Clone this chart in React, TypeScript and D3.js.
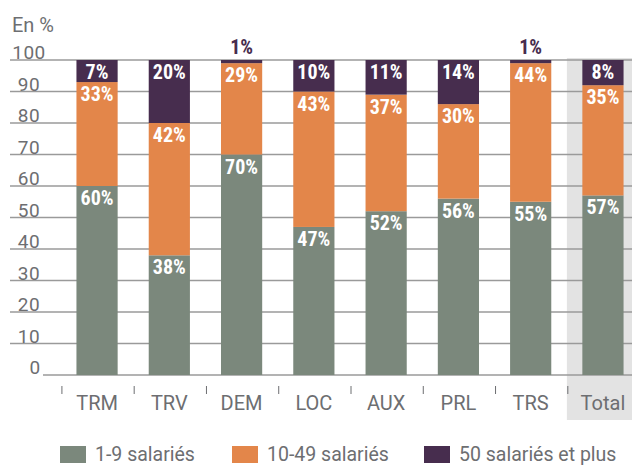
import { axisBottom, scaleBand, scaleLinear, scaleOrdinal, select, stack } from "d3";
import { useEffect, useRef } from "react";

const categories = ["TRM", "TRV", "DEM", "LOC", "AUX", "PRL", "TRS", "Total"];
const small = [60, 38, 70, 47, 52, 56, 55, 57];
const medium = [33, 42, 29, 43, 37, 30, 44, 35];
const large = [7, 20, 1, 10, 11, 14, 1, 8];
const seriesNames = ["1-9 salariés", "10-49 salariés", "50 salariés et plus"];
const yTicks = [0, 10, 20, 30, 40, 50, 60, 70, 80, 90, 100];

const width = 632;
const height = 466;

export default function App() {
  const ref = useRef<SVGSVGElement>(null);

  useEffect(() => {
    document.body.style.margin = "0";
    const data = categories.map((c, i) => ({ cat: c, s: small[i], m: medium[i], l: large[i] }));
    const keys = ["s", "m", "l"];

    const x = scaleBand().domain(categories).range([62, 638]).paddingInner(0.43).paddingOuter(0.2);
    const y = scaleLinear().domain([0, 100]).range([375, 60]);
    const color = scaleOrdinal<string, string>().domain(keys).range(["#7b887c", "#e3864a", "#472d4e"]);
    const stacked = stack<any>().keys(keys)(data);

    const svg = select(ref.current);
    svg.selectAll("*").remove();
    const font = "Roboto, 'DejaVu Sans', sans-serif";
    const grey = "#6d6e71";

    // Total highlight background
    const step = x.step();
    const totalStart = 62 + step * 7;
    svg.append("rect")
      .attr("x", totalStart - 1)
      .attr("y", 58)
      .attr("width", width - totalStart + 1)
      .attr("height", 420 - 58)
      .attr("fill", "#e3e3e3");

    // gridlines + y labels
    const grid = svg.append("g");
    grid.selectAll("line")
      .data(yTicks)
      .join("line")
      .attr("x1", d => (d === 0 ? 43 : 10))
      .attr("x2", width)
      .attr("y1", d => y(d))
      .attr("y2", d => y(d))
      .attr("stroke", "#9a9a9a")
      .attr("stroke-width", 1.5);
    grid.selectAll("text")
      .data(yTicks)
      .join("text")
      .attr("x", d => (d === 0 ? 35 : 29))
      .attr("y", d => y(d) - 1)
      .attr("text-anchor", "middle")
      .attr("font-family", font)
      .attr("font-size", 19)
      .attr("letter-spacing", 0.5)
      .attr("fill", grey)
      .text(d => d);

    svg.append("text")
      .attr("x", 12)
      .attr("y", 32)
      .attr("font-family", font)
      .attr("font-size", 20)
      .attr("fill", grey)
      .text("En %");

    // bars
    const layers = svg.append("g")
      .selectAll("g")
      .data(stacked)
      .join("g")
      .attr("fill", d => color(d.key));
    layers.selectAll("rect")
      .data(d => d)
      .join("rect")
      .attr("x", d => x(d.data.cat)!)
      .attr("y", d => y(d[1]))
      .attr("width", x.bandwidth())
      .attr("height", d => y(d[0]) - y(d[1]));

    // value labels
    const labelFont = "'Liberation Sans Narrow', 'Roboto Condensed', 'DejaVu Sans Condensed', sans-serif";
    stacked.forEach(layer => {
      svg.append("g")
        .selectAll("text")
        .data(layer)
        .join("text")
        .attr("x", d => x(d.data.cat)! + x.bandwidth() / 2)
        .attr("y", d => (d[1] - d[0] < 5 ? y(d[1]) - 6 : y(d[1]) + 19))
        .attr("text-anchor", "middle")
        .attr("font-family", labelFont)
        .attr("font-weight", "bold")
        .attr("font-size", 20)
        .attr("fill", d => (d[1] - d[0] < 5 ? "#472d4e" : "#ffffff"))
        .text(d => `${d[1] - d[0]}%`);
    });

    // x axis
    const xAxis = svg.append("g")
      .attr("transform", "translate(0,386)")
      .call(axisBottom(x).tickSize(0).tickPadding(10))
      .call(g => g.select(".domain").remove());
    xAxis.selectAll("text")
      .attr("font-family", font)
      .attr("font-size", 20)
      .attr("fill", grey);
    xAxis.selectAll(".sep")
      .data(categories)
      .join("line")
      .attr("class", "sep")
      .attr("x1", d => x(d)! - (step - x.bandwidth()) / 2 + 1)
      .attr("x2", d => x(d)! - (step - x.bandwidth()) / 2 + 1)
      .attr("y1", 0)
      .attr("y2", 8)
      .attr("stroke", grey)
      .attr("stroke-width", 1);

    // legend
    const legendX = [60, 232, 424];
    const legend = svg.append("g")
      .selectAll("g")
      .data(seriesNames)
      .join("g")
      .attr("transform", (d, i) => `translate(${legendX[i]},446)`);
    legend.append("rect")
      .attr("width", 26)
      .attr("height", 17)
      .attr("fill", (d, i) => color(keys[i]));
    legend.append("text")
      .attr("x", 35)
      .attr("y", 15)
      .attr("font-family", font)
      .attr("font-size", 19.5)
      .attr("fill", grey)
      .text(d => d);
  }, []);

  return (
    <div className="chart">
      <svg ref={ref} width={width} height={height} viewBox={`0 0 ${width} ${height}`} />
    </div>
  );
}
